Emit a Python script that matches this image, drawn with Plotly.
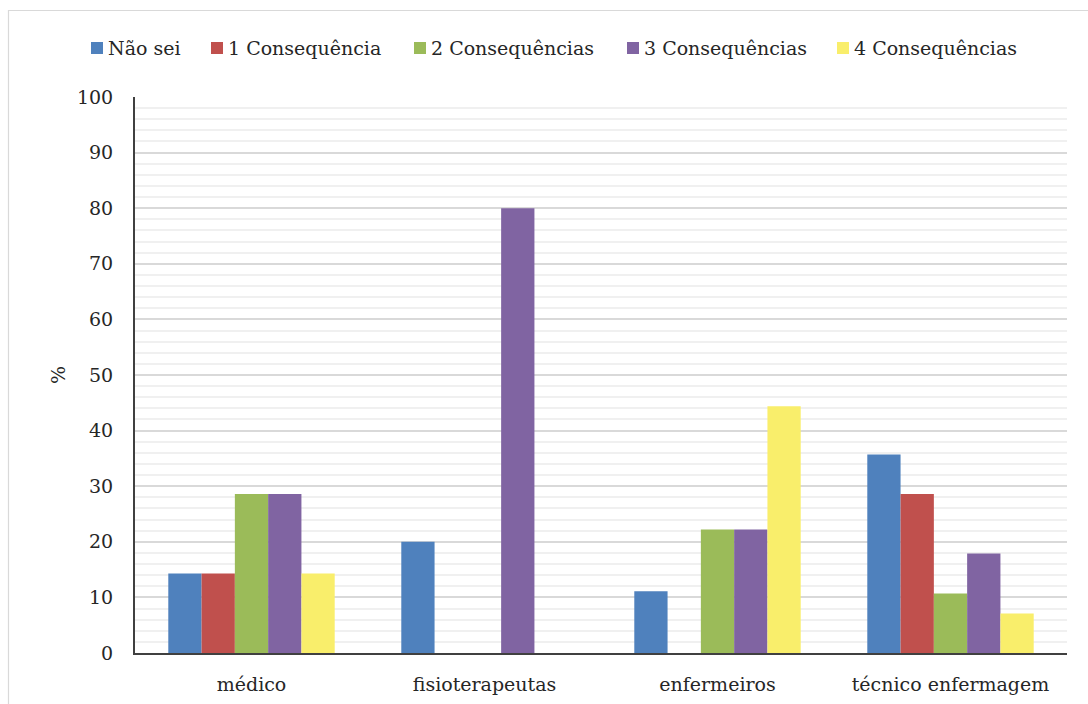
import plotly.graph_objects as go

# Survey results: share of respondents (%) by profession and number of consequences cited
categories = ["médico", "fisioterapeutas", "enfermeiros", "técnico enfermagem"]
series_names = ["Não sei", "1 Consequência", "2 Consequências", "3 Consequências", "4 Consequências"]
nao_sei = [14.3, 20.0, 11.1, 35.7]
uma = [14.3, 0, 0, 28.6]
duas = [28.6, 0, 22.2, 10.7]
tres = [28.6, 80.0, 22.2, 17.9]
quatro = [14.3, 0, 44.4, 7.1]
colors = ["#4F81BD", "#C0504D", "#9BBB59", "#8064A2", "#F9EE6B"]

y_ticks = list(range(0, 101, 10))

FONT = "DejaVu Serif"
FS = 19
TEXT = "#262626"

W, H = 1088, 704
L, R, T, B = 135, 21, 97, 51
PW, PH = W - L - R, H - T - B


def px_x(px):
    return (px - L) / PW


def px_y(py):
    return (H - B - py) / PH


fig = go.Figure()
for name, vals, col in zip(series_names, [nao_sei, uma, duas, tres, quatro], colors):
    fig.add_trace(go.Bar(
        x=categories, y=vals, name=name,
        marker=dict(color=col, line=dict(width=0)),
        showlegend=False,
    ))

# Legend row drawn as squares and labels above the plot
legend_x = [91, 211, 414, 627, 837]
legend_y = 48
for name, col, lx in zip(series_names, colors, legend_x):
    fig.add_shape(type="rect", xref="paper", yref="paper",
                  x0=px_x(lx), x1=px_x(lx + 12),
                  y0=px_y(legend_y + 6), y1=px_y(legend_y - 6),
                  fillcolor=col, line=dict(width=0))
    fig.add_annotation(text=name, xref="paper", yref="paper",
                       x=px_x(lx + 15), y=px_y(legend_y),
                       xanchor="left", yanchor="middle", showarrow=False,
                       font=dict(family=FONT, size=FS, color=TEXT))

# Light frame around the chart
fig.add_shape(type="rect", xref="paper", yref="paper",
              x0=px_x(8.5), x1=px_x(1100), y0=px_y(720), y1=px_y(10.5),
              line=dict(color="#D9D9D9", width=1.2), fillcolor="rgba(0,0,0,0)",
              layer="below")

fig.update_layout(
    width=W, height=H,
    margin=dict(l=L, r=R, t=T, b=B),
    paper_bgcolor="white", plot_bgcolor="white",
    barmode="group", bargap=2 / 7, bargroupgap=0,
    font=dict(family=FONT, size=FS, color=TEXT),
    showlegend=False,
)
fig.update_xaxes(
    showline=True, linecolor="#404040", linewidth=2,
    showgrid=False, ticks="", tickfont=dict(size=FS),
    ticklabelstandoff=13, automargin=False,
)
fig.update_yaxes(
    range=[0, 100], tickvals=y_ticks,
    showline=True, linecolor="#404040", linewidth=2,
    showgrid=True, gridcolor="#D9D9D9", gridwidth=1.5,
    minor=dict(dtick=2, showgrid=True, gridcolor="#F0F0F0", gridwidth=1.5),
    zeroline=False, ticks="", tickfont=dict(size=FS),
    ticklabelstandoff=16, automargin=False,
    title=dict(text="%", font=dict(size=FS), standoff=6),
)

fig.write_html("out.html")
